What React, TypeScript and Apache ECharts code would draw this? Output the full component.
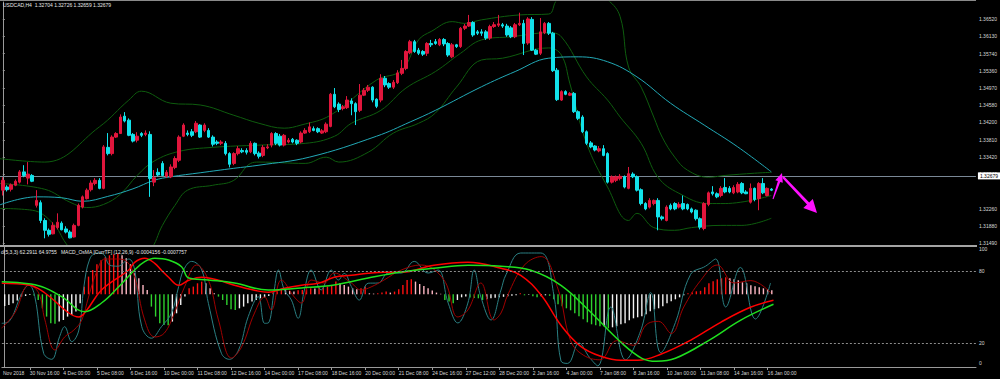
import React, { useEffect, useRef } from "react";
import * as echarts from "echarts";

// ---------- price data (H4 bars, index 0 = 29 Nov 2018 16:00) ----------
const opens = [
  1.3268, 1.3275, 1.3270, 1.3279, 1.3286, 1.3309, 1.3295, 1.3301, 1.3234, 1.3240,
  1.3200, 1.3178, 1.3170, 1.3184, 1.3194, 1.3181, 1.3174, 1.3163, 1.3189, 1.3230,
  1.3249, 1.3269, 1.3283, 1.3290, 1.3272, 1.3364, 1.3350, 1.3387, 1.3395, 1.3434,
  1.3425, 1.3393, 1.3380, 1.3395, 1.3393, 1.3393, 1.3286, 1.3308, 1.3328, 1.3299,
  1.3298, 1.3319, 1.3335, 1.3389, 1.3396, 1.3399, 1.3399, 1.3414, 1.3402, 1.3402,
  1.3387, 1.3376, 1.3373, 1.3373, 1.3350, 1.3328, 1.3350, 1.3357, 1.3357, 1.3354,
  1.3373, 1.3351, 1.3346, 1.3363, 1.3369, 1.3395, 1.3389, 1.3369, 1.3376, 1.3382,
  1.3380, 1.3376, 1.3396, 1.3399, 1.3406, 1.3406, 1.3396, 1.3399, 1.3411, 1.3483,
  1.3461, 1.3451, 1.3453, 1.3468, 1.3462, 1.3447, 1.3481, 1.3492, 1.3499, 1.3472,
  1.3470, 1.3519, 1.3507, 1.3499, 1.3509, 1.3530, 1.3541, 1.3576, 1.3601, 1.3582,
  1.3579, 1.3575, 1.3597, 1.3601, 1.3594, 1.3606, 1.3597, 1.3567, 1.3594, 1.3590,
  1.3631, 1.3636, 1.3644, 1.3623, 1.3623, 1.3623, 1.3609, 1.3635, 1.3638, 1.3639,
  1.3636, 1.3632, 1.3612, 1.3639, 1.3642, 1.3598, 1.3651, 1.3582, 1.3575, 1.3621,
  1.3642, 1.3620, 1.3537, 1.3470, 1.3489, 1.3481, 1.3485, 1.3444, 1.3432, 1.3399,
  1.3374, 1.3367, 1.3356, 1.3361, 1.3350, 1.3286, 1.3290, 1.3294, 1.3298, 1.3272,
  1.3304, 1.3298, 1.3269, 1.3238, 1.3230, 1.3238, 1.3245, 1.3208, 1.3200, 1.3234,
  1.3238, 1.3230, 1.3238, 1.3236, 1.3226, 1.3223, 1.3204, 1.3182, 1.3236, 1.3264,
  1.3260, 1.3256, 1.3274, 1.3272, 1.3262, 1.3264, 1.3283, 1.3264, 1.3241, 1.3272,
  1.3249, 1.3283, 1.3256, 1.32704,
];
const highs = [
  1.3297, 1.3279, 1.3283, 1.3292, 1.3313, 1.3324, 1.3331, 1.3304, 1.3268, 1.3245,
  1.3205, 1.3182, 1.3196, 1.3216, 1.3198, 1.3187, 1.3178, 1.3193, 1.3238, 1.3256,
  1.3272, 1.3290, 1.3295, 1.3295, 1.3369, 1.3396, 1.3391, 1.3398, 1.3438, 1.3443,
  1.3429, 1.3396, 1.3398, 1.3398, 1.3402, 1.3400, 1.3313, 1.3317, 1.3333, 1.3313,
  1.3326, 1.3344, 1.3391, 1.3418, 1.3402, 1.3405, 1.3423, 1.3416, 1.3418, 1.3407,
  1.3391, 1.3380, 1.3380, 1.3378, 1.3353, 1.3353, 1.3367, 1.3362, 1.3362, 1.3378,
  1.3375, 1.3355, 1.3369, 1.3371, 1.3398, 1.3398, 1.3394, 1.3394, 1.3385, 1.3385,
  1.3382, 1.3400, 1.3407, 1.3420, 1.3411, 1.3409, 1.3405, 1.3420, 1.3486, 1.3497,
  1.3465, 1.3459, 1.3479, 1.3474, 1.3465, 1.3506, 1.3497, 1.3504, 1.3501, 1.3474,
  1.3528, 1.3524, 1.3510, 1.3515, 1.3537, 1.3560, 1.3582, 1.3605, 1.3605, 1.3587,
  1.3582, 1.3600, 1.3605, 1.3607, 1.3609, 1.3609, 1.3600, 1.3598, 1.3596, 1.3634,
  1.3641, 1.3661, 1.3647, 1.3627, 1.3629, 1.3627, 1.3639, 1.3645, 1.3661, 1.3643,
  1.3641, 1.3636, 1.3643, 1.3666, 1.3650, 1.3656, 1.3656, 1.3585, 1.3654, 1.3645,
  1.3645, 1.3623, 1.3542, 1.3492, 1.3492, 1.3488, 1.3488, 1.3447, 1.3436, 1.3402,
  1.3378, 1.3369, 1.3367, 1.3369, 1.3353, 1.3301, 1.3301, 1.3304, 1.3301, 1.3320,
  1.3308, 1.3301, 1.3272, 1.3241, 1.3250, 1.3247, 1.3250, 1.3211, 1.3234, 1.3238,
  1.3241, 1.3241, 1.3256, 1.3238, 1.3229, 1.3225, 1.3207, 1.3241, 1.3265, 1.3277,
  1.3263, 1.3277, 1.3295, 1.3277, 1.3279, 1.3286, 1.3286, 1.3268, 1.3283, 1.3274,
  1.3286, 1.3295, 1.3274, 1.32726,
];
const lows = [
  1.3256, 1.3265, 1.3265, 1.3277, 1.3283, 1.3297, 1.3281, 1.3286, 1.3229, 1.3194,
  1.3160, 1.3164, 1.3169, 1.3180, 1.3178, 1.3171, 1.3160, 1.3162, 1.3187, 1.3227,
  1.3247, 1.3265, 1.3279, 1.3270, 1.3270, 1.3346, 1.3346, 1.3385, 1.3394, 1.3420,
  1.3389, 1.3375, 1.3375, 1.3387, 1.3389, 1.3253, 1.3277, 1.3299, 1.3299, 1.3295,
  1.3295, 1.3315, 1.3331, 1.3387, 1.3389, 1.3387, 1.3396, 1.3385, 1.3398, 1.3385,
  1.3366, 1.3369, 1.3369, 1.3346, 1.3319, 1.3324, 1.3346, 1.3351, 1.3348, 1.3351,
  1.3346, 1.3339, 1.3342, 1.3360, 1.3364, 1.3369, 1.3366, 1.3366, 1.3373, 1.3373,
  1.3369, 1.3373, 1.3394, 1.3396, 1.3400, 1.3396, 1.3394, 1.3396, 1.3409, 1.3452,
  1.3443, 1.3447, 1.3450, 1.3436, 1.3414, 1.3443, 1.3479, 1.3488, 1.3465, 1.3452,
  1.3465, 1.3499, 1.3495, 1.3495, 1.3506, 1.3526, 1.3537, 1.3573, 1.3576, 1.3571,
  1.3569, 1.3569, 1.3589, 1.3594, 1.3591, 1.3591, 1.3567, 1.3564, 1.3587, 1.3587,
  1.3627, 1.3634, 1.3612, 1.3616, 1.3614, 1.3605, 1.3605, 1.3632, 1.3634, 1.3632,
  1.3612, 1.3609, 1.3609, 1.3636, 1.3571, 1.3594, 1.3580, 1.3571, 1.3571, 1.3618,
  1.3616, 1.3533, 1.3468, 1.3468, 1.3481, 1.3479, 1.3441, 1.3425, 1.3396, 1.3369,
  1.3362, 1.3355, 1.3353, 1.3344, 1.3283, 1.3283, 1.3286, 1.3290, 1.3272, 1.3270,
  1.3295, 1.3265, 1.3234, 1.3223, 1.3227, 1.3234, 1.3178, 1.3200, 1.3198, 1.3223,
  1.3223, 1.3227, 1.3223, 1.3223, 1.3216, 1.3200, 1.3180, 1.3178, 1.3232, 1.3256,
  1.3250, 1.3252, 1.3261, 1.3261, 1.3259, 1.3261, 1.3259, 1.3259, 1.3238, 1.3243,
  1.3223, 1.3259, 1.3254, 1.32659,
];
const closes = [
  1.3290, 1.3269, 1.3280, 1.3288, 1.3309, 1.3301, 1.3304, 1.3288, 1.3245, 1.3200,
  1.3178, 1.3169, 1.3189, 1.3196, 1.3179, 1.3174, 1.3161, 1.3189, 1.3234, 1.3253,
  1.3268, 1.3284, 1.3290, 1.3272, 1.3365, 1.3350, 1.3387, 1.3395, 1.3432, 1.3423,
  1.3391, 1.3378, 1.3389, 1.3391, 1.3396, 1.3294, 1.3296, 1.3302, 1.3301, 1.3308,
  1.3320, 1.3339, 1.3387, 1.3414, 1.3393, 1.3391, 1.3418, 1.3387, 1.3414, 1.3387,
  1.3371, 1.3373, 1.3376, 1.3350, 1.3326, 1.3350, 1.3361, 1.3354, 1.3353, 1.3373,
  1.3350, 1.3344, 1.3364, 1.3365, 1.3395, 1.3373, 1.3369, 1.3391, 1.3380, 1.3376,
  1.3373, 1.3396, 1.3402, 1.3410, 1.3402, 1.3399, 1.3401, 1.3416, 1.3483, 1.3455,
  1.3449, 1.3455, 1.3470, 1.3462, 1.3444, 1.3481, 1.3492, 1.3499, 1.3470, 1.3456,
  1.3519, 1.3504, 1.3499, 1.3510, 1.3531, 1.3541, 1.3579, 1.3601, 1.3579, 1.3575,
  1.3573, 1.3597, 1.3594, 1.3597, 1.3606, 1.3596, 1.3571, 1.3594, 1.3590, 1.3631,
  1.3636, 1.3644, 1.3616, 1.3620, 1.3620, 1.3609, 1.3635, 1.3639, 1.3641, 1.3636,
  1.3616, 1.3612, 1.3639, 1.3642, 1.3597, 1.3652, 1.3582, 1.3573, 1.3623, 1.3642,
  1.3620, 1.3536, 1.3471, 1.3489, 1.3483, 1.3485, 1.3444, 1.3429, 1.3399, 1.3373,
  1.3365, 1.3358, 1.3361, 1.3346, 1.3286, 1.3298, 1.3298, 1.3299, 1.3275, 1.3305,
  1.3298, 1.3268, 1.3238, 1.3226, 1.3245, 1.3245, 1.3208, 1.3204, 1.3230, 1.3226,
  1.3226, 1.3236, 1.3226, 1.3226, 1.3219, 1.3204, 1.3185, 1.3238, 1.3262, 1.3260,
  1.3253, 1.3272, 1.3264, 1.3264, 1.3274, 1.3281, 1.3262, 1.3260, 1.3272, 1.3247,
  1.3283, 1.3262, 1.3272, 1.32679,
];

// ---------- main-window indicators [barIndex, price] ----------
const maLine = [
  [-1, 1.3234], [8, 1.3253], [14, 1.3251], [19, 1.3243], [25, 1.3254], [31, 1.3271],
  [36, 1.3290], [40, 1.3298], [47, 1.3307], [55, 1.3317], [61, 1.3324], [73, 1.3342],
  [89, 1.3389], [97, 1.3421], [103, 1.3447], [114, 1.3500], [122, 1.3534], [130, 1.3564],
  [137, 1.3567], [144, 1.3556], [151, 1.3522], [159, 1.3463], [167, 1.3414], [175, 1.3365],
  [183, 1.3309],
];
const bbUpper = [
  [-1, 1.3339], [10, 1.3331], [23, 1.3410], [30, 1.3470], [33, 1.3490], [40, 1.3463],
  [47, 1.3459], [55, 1.3436], [61, 1.3418], [67, 1.3407], [71, 1.3414], [78, 1.3436],
  [89, 1.3515], [95, 1.3537], [99, 1.3605], [102, 1.3624], [107, 1.3646], [110, 1.3642],
  [114, 1.3650], [123, 1.3661], [130, 1.3663], [132, 1.3695], [138, 1.3728], [144, 1.3695],
  [147, 1.3657], [149, 1.3544], [152, 1.3499], [155, 1.3432], [157, 1.3387], [160, 1.3342],
  [163, 1.3313], [168, 1.3297], [172, 1.3301], [179, 1.3306], [183, 1.3308],
];
const bbMiddle = [
  [-1, 1.3283], [10, 1.3270], [16, 1.3241], [20, 1.3229], [24, 1.3236], [28, 1.3259],
  [32, 1.3301], [36, 1.3333], [42, 1.3355], [50, 1.3364], [61, 1.3369], [72, 1.3373],
  [79, 1.3389], [83, 1.3418], [90, 1.3447], [96, 1.3497], [103, 1.3534], [109, 1.3575],
  [114, 1.3605], [121, 1.3612], [130, 1.3621], [133, 1.3612], [139, 1.3522], [144, 1.3470],
  [147, 1.3432], [152, 1.3373], [156, 1.3297], [161, 1.3261], [168, 1.3238], [172, 1.3238],
  [183, 1.3256],
];
const bbLower = [
  [-1, 1.3227], [7, 1.3223], [12, 1.3193], [15, 1.3149], [18, 1.3115], [23, 1.3063],
  [30, 1.3106], [35, 1.3133], [38, 1.3189], [41, 1.3234], [44, 1.3268], [50, 1.3279],
  [55, 1.3290], [59, 1.3328], [61, 1.3331], [72, 1.3328], [77, 1.3342], [80, 1.3331],
  [87, 1.3353], [93, 1.3396], [99, 1.3418], [103, 1.3441], [108, 1.3499], [114, 1.3560],
  [119, 1.3564], [130, 1.3587], [133, 1.3571], [135, 1.3508], [139, 1.3373], [144, 1.3275],
  [149, 1.3200], [151, 1.3216], [155, 1.3184], [160, 1.3178], [164, 1.3184], [171, 1.3189],
  [176, 1.3189], [183, 1.3205],
];

// ---------- sub-window: Stochastic (0..100) ----------
const stochMain = [
  [-0.7, 36.4], [1, 37.8], [4.1, 61.4], [5.8, 68.3], [7.2, 58.6], [9.3, 11.4], [11.2, 6.4],
  [13.1, 25.3], [14.3, 33.6], [16, 21.1], [17.7, 30.8], [18.9, 66.9], [20.3, 90], [22, 95],
  [23.6, 94], [25, 85], [27, 84], [29.6, 90], [31, 81], [32.7, 33.6], [35, 24], [37.4, 33.6],
  [39.8, 45], [41.5, 67], [42.7, 81], [44.6, 88], [47, 81], [48.6, 53], [51.7, 11.4],
  [53.6, 6.4], [55.8, 14.2], [58.1, 42], [60.5, 58.6], [62, 36.4], [62.9, 36.7], [64.3, 64.2],
  [65.3, 80.8], [66.7, 64.2], [68.4, 55.8], [70, 40.6], [71.5, 64.2], [73.1, 80.8], [75.5, 64.2],
  [77.9, 80.8], [79.6, 72.5], [81, 78], [82.7, 67], [84.6, 55.8], [86.7, 69.8], [89.1, 70],
  [91.5, 78.3], [94.6, 78.3], [97.7, 88], [101, 78.3], [103.4, 80.8], [105.8, 53.3],
  [108.1, 36.7], [110.5, 53.3], [112, 80.8], [113.6, 58.3], [116, 39.2], [118.4, 64.2],
  [119.6, 77], [123.1, 95], [127.9, 95], [131, 60], [132.7, 5], [134.3, 3], [137, 20],
  [139.5, 8], [141.5, 1], [144.6, 50], [148.1, 6], [151.7, 30], [154.1, 62], [156.5, 12],
  [160, 37], [163.6, 77], [167.2, 84], [169.6, 90], [172, 50], [175.5, 83], [179.1, 40],
  [182.7, 70],
];
const stochSignal = [
  [-0.7, 32.5], [2.4, 45], [5.8, 68.3], [8.1, 61.7], [9.6, 39.2], [12, 14.2], [14.3, 25],
  [16.5, 30.8], [18.4, 39.2], [20, 58.3], [22, 80], [23.9, 90], [26.7, 90], [29.1, 88],
  [31, 75], [33.4, 39.2], [35.8, 25], [38.1, 28.3], [40.5, 45], [42.9, 66.7], [45.8, 85],
  [48.6, 72.5], [51, 39.2], [54.1, 7.5], [56.5, 16.7], [59.6, 45], [62, 58.3], [63.6, 47.5],
  [66, 72.5], [69.1, 58.3], [70.8, 53.3], [73.1, 72.5], [76.2, 70], [78.6, 78.3], [82.7, 70],
  [85, 64.2], [87.4, 66.7], [90.5, 72.5], [94.6, 80.8], [99.3, 85], [104.8, 72.5],
  [108.1, 41.7], [110.5, 47.5], [113.6, 70], [116.7, 39.2], [118.4, 45], [120, 60], [124, 85],
  [128, 92], [132, 65], [135, 22], [138, 10], [142, 6], [146, 22], [150, 18], [153, 35],
  [156, 38], [159, 28], [162, 50], [166, 72], [170, 85], [174, 70], [178, 72], [182.7, 62],
];
const oscTickPos = [3.3, 20, 80, 98.3];
const oscTickText = ["0", "20", "80", "100"];
const oscLevels = [20, 80];

// ---------- sub-window: MACD_OsMA (arbitrary units, 0 = histogram base) ----------
const osma = [
  -11.7, -10.7, -9, -6.3, -2.3, -1.7, -0.7, -1.3, -5.7, -14,
  -22.3, -29, -29.5, -27.3, -25.7, -22.3, -20.7, -17.3, -9, 7.7,
  17.7, 24.3, 30, 34, 37, 39, 40, 40.5, 39, 36,
  30, 21, 16, 9.3, 4.3, -12.3, -22.3, -29, -30.7, -31,
  -27.3, -19, -10.7, -2.3, 6, 7.7, 11, 12.7, 11, 6,
  1, -2.3, -5.7, -10.7, -15, -15.7, -14, -12.3, -9, -7.3,
  -5.7, -4, -3, -1.7, 1.7, 3, 4.3, 4, 3.3, 2.7,
  4, 4.3, 5, 6, 5.7, 6.7, 7, 7.7, 9.3, 12.7,
  11, 9.3, 7.7, 6, 5, 6, 7.7, 1, 0.7, 1,
  1.7, 2.7, 1.7, 2.7, 5, 9.3, 14.3, 15, 12.7, 10.3,
  8.3, 6, 3.7, 1.7, 0.5, -5.7, -7.3, -9, -5.7, -3,
  -2.3, -3.3, -3.7, -4, -5.7, -5, -4, -3.5, -3, -2.5,
  -2, -1.5, -1, 1, -1, -0.5, -2, -3, -2, -1,
  -1.5, -5, -10, -12, -14, -16, -19, -22, -25, -28,
  -30, -31, -32, -32, -34, -33, -32, -30, -29, -26,
  -24, -23, -22, -20, -17, -15, -14, -12, -9, -7,
  -5, -3, -1, 1, 2, 3, 3.5, 7, 11, 13,
  15, 16, 17, 16, 15, 14, 12, 11, 9, 8,
  7, 6, 5, 4,
];
const macdLine = [
  [-0.7, 11], [5.8, 9.3], [9.6, 1.3], [15.3, -18.7], [17.7, -22.7], [19.6, -15.7], [23.1, 4.3],
  [29.6, 24.3], [31, 32], [33.4, 36], [35.8, 31], [37.4, 24], [39.1, 17], [41.5, 9], [43.9, 14],
  [47, 17], [51, 14], [54.8, 9], [59.6, 4], [62.9, 2], [66.7, 6], [70.8, 9], [74.8, 11],
  [78.6, 17], [82.7, 19], [86.7, 21], [90.5, 22], [94.6, 22], [102.4, 29], [110.5, 32],
  [118.4, 26], [123.1, 19], [128, -1], [132.7, -31], [137.4, -52], [142.2, -62], [147, -66],
  [151, -66], [156.5, -60], [163.6, -46], [170.8, -28], [177.9, -13], [183.4, -6],
];
const signalLine = [
  [-0.7, 12.6], [4.1, 11.3], [8.9, 7.6], [13.6, -2.4], [19.1, -17.4], [23.1, -8.7], [27.2, 7.6],
  [31, 24.3], [33.4, 32.6], [35.8, 36], [39.1, 34.3], [42.2, 27.6], [43.9, 16.3], [48.6, 14.3],
  [54.8, 11.3], [62.9, 4.3], [70.8, 6.3], [78.6, 9.3], [86.7, 16.3], [94.6, 22.3], [102.4, 26],
  [110.5, 29], [118.4, 28], [125.5, 24], [132.7, 9], [139.8, -18], [147, -48], [152, -64],
  [155.5, -67], [160, -64], [168.4, -45], [175.5, -26], [183.4, -10],
];

// ---------- axes ----------
const priceTicks = [
  1.3149, 1.3188, 1.3226, 1.3304, 1.3342, 1.3381, 1.342, 1.3458, 1.3497, 1.3536, 1.3574,
  1.3613, 1.3652,
];
const lastPrice = 1.32679;
const xTickIdx = [
  -0.4, 6, 14, 22, 30, 38, 46, 54, 62, 70, 78, 86, 94, 102, 110, 118, 126, 134, 142, 150,
  158, 166, 174, 182,
];
const xTickText = [
  "Nov 2018", "30 Nov 16:00", "4 Dec 00:00", "5 Dec 08:00", "6 Dec 16:00", "10 Dec 00:00",
  "11 Dec 08:00", "12 Dec 16:00", "14 Dec 00:00", "17 Dec 08:00", "18 Dec 16:00",
  "20 Dec 00:00", "21 Dec 08:00", "24 Dec 16:00", "27 Dec 12:00", "28 Dec 20:00",
  "2 Jan 16:00", "4 Jan 00:00", "7 Jan 08:00", "8 Jan 16:00", "10 Jan 00:00",
  "11 Jan 08:00", "14 Jan 16:00", "16 Jan 00:00",
];
const headerMain = "USDCAD,H4  1.32704 1.32726 1.32659 1.32679";
const headerSub =
  "d(5,3,3) 62.2911 64.9755   MACD_OsMA [CurrTF] (12,26,9) -0.0004156 -0.0007757";

const XMIN = -0.667;
const XMAX = 231.71;
const FONT = "Liberation Sans";
const BULL = "#e0163c";
const BEAR = "#12e2ea";
const AXIS = "#9a9a9a";
const TXT = "#d8d8d8";

function osmaColor(i: number) {
  const h = osma[i];
  const p = i > 0 ? osma[i - 1] : h;
  if (h >= 0) return h >= p ? "#ff1010" : "#ffb8c4";
  return h < p ? "#2ed12e" : "#f2f2f2";
}

function buildOption(): any {
  const candles = opens.map((o, i) => [i, o, closes[i], lows[i], highs[i]]);
  const line = (data: number[][], color: string, xi: number, yi: number, width = 1) => ({
    type: "line",
    xAxisIndex: xi,
    yAxisIndex: yi,
    data,
    smooth: 0.4,
    showSymbol: false,
    symbol: "none",
    silent: true,
    lineStyle: { color, width },
    z: 3,
  });
  return {
    animation: false,
    backgroundColor: "#000000",
    textStyle: { fontFamily: FONT },
    grid: [
      { left: 0, top: 2, width: 976, height: 243 },
      { left: 0, top: 247, width: 976, height: 120 },
    ],
    xAxis: [
      {
        type: "value", gridIndex: 0, min: XMIN, max: XMAX,
        axisLine: { show: false }, axisTick: { show: false }, axisLabel: { show: false },
        splitLine: { show: false },
      },
      {
        type: "value", gridIndex: 1, min: XMIN, max: XMAX,
        axisLine: { show: true, lineStyle: { color: AXIS, width: 1 } },
        axisTick: { show: true, length: 3, lineStyle: { color: AXIS }, customValues: xTickIdx.slice(1) },
        axisLabel: {
          show: true, customValues: xTickIdx, color: TXT, fontSize: 5, fontFamily: FONT,
          align: "left", margin: 3,
          formatter: (v: number) => {
            const k = xTickIdx.findIndex((t) => Math.abs(t - v) < 1e-6);
            return k >= 0 ? xTickText[k] : "";
          },
        },
        splitLine: { show: false },
      },
    ],
    yAxis: [
      {
        type: "value", gridIndex: 0, position: "right", min: 1.3145, max: 1.369, scale: true,
        axisLine: { show: true, lineStyle: { color: AXIS, width: 1 } },
        axisTick: { show: true, length: 2, lineStyle: { color: AXIS }, customValues: priceTicks },
        axisLabel: {
          show: true, customValues: priceTicks, color: TXT, fontSize: 5, fontFamily: FONT, margin: 3,
          formatter: (v: number) => v.toFixed(5),
        },
        splitLine: { show: false },
      },
      {
        type: "value", gridIndex: 1, position: "right", min: 0, max: 100,
        axisLine: { show: true, lineStyle: { color: AXIS, width: 1 } },
        axisTick: { show: false },
        axisLabel: {
          show: true, customValues: oscTickPos, color: TXT, fontSize: 5, fontFamily: FONT, margin: 3,
          formatter: (v: number) => {
            const k = oscTickPos.findIndex((t) => Math.abs(t - v) < 1e-6);
            return k >= 0 ? oscTickText[k] : "";
          },
        },
        splitLine: { show: false },
      },
      {
        type: "value", gridIndex: 1, min: -72.7, max: 47.3, show: false,
        splitLine: { show: false },
      },
    ],
    series: [
      {
        type: "candlestick",
        xAxisIndex: 0,
        yAxisIndex: 0,
        data: candles,
        encode: { x: 0, y: [1, 2, 3, 4] },
        barWidth: 3,
        silent: true,
        itemStyle: { color: BULL, color0: BEAR, borderColor: BULL, borderColor0: BEAR, borderWidth: 1 },
        z: 4,
        markLine: {
          silent: true,
          symbol: "none",
          data: [{ yAxis: lastPrice }],
          lineStyle: { color: "#7a8896", width: 1, type: "solid" },
          label: {
            show: true, position: "end", distance: 2, formatter: lastPrice.toFixed(5),
            backgroundColor: "#ffffff", color: "#000000", fontSize: 5, fontFamily: FONT,
            padding: [1, 2, 1, 2],
          },
          z: 2,
        },
      },
      line(bbUpper, "#0e5c0e", 0, 0),
      line(bbMiddle, "#0e5c0e", 0, 0),
      line(bbLower, "#0e5c0e", 0, 0),
      line(maLine, "#22a9b6", 0, 0),
      {
        type: "bar",
        xAxisIndex: 1,
        yAxisIndex: 2,
        barWidth: 1.4,
        silent: true,
        data: osma.map((h, i) => ({ value: [i, h], itemStyle: { color: osmaColor(i) } })),
        z: 2,
      },
      {
        ...line(stochMain, "#2a7f82", 1, 1),
        markLine: {
          silent: true,
          symbol: "none",
          label: { show: false },
          lineStyle: { color: "#8c8c8c", width: 1, type: [2, 2] },
          data: oscLevels.map((v) => ({ yAxis: v })),
        },
      },
      line(stochSignal, "#a00000", 1, 1),
      line(macdLine, "#ff0000", 1, 2, 1.5),
      line(signalLine, "#1fe01f", 1, 2, 1.5),
    ],
    graphic: [
      { type: "rect", shape: { x: 0, y: 0, width: 976, height: 1 }, style: { fill: "#8a8a8a" }, z: 50 },
      { type: "rect", shape: { x: 0, y: 245, width: 977, height: 2 }, style: { fill: "#a4a4a4" }, z: 50 },
      {
        type: "text", x: 3, y: 5, z: 60,
        style: { text: headerMain, fill: "#e8e8e8", fontSize: 5, fontFamily: FONT, verticalAlign: "middle" },
      },
      {
        type: "text", x: 1, y: 251.5, z: 60,
        style: { text: headerSub, fill: "#e8e8e8", fontSize: 5, fontFamily: FONT, verticalAlign: "middle" },
      },
      {
        type: "polygon", z: 60,
        shape: { points: [[772.5, 198.8], [777.9, 181.1], [775.3, 180.2], [782, 173], [782.8, 182.8], [780.2, 181.9], [773.5, 199.2]] },
        style: { fill: "#ff10ff" },
      },
      {
        type: "polygon", z: 60,
        shape: { points: [[783.9, 176.2], [809.2, 202.5], [812.8, 199.1], [817, 213], [803.3, 208.0], [807.0, 204.6], [782.1, 177.8]] },
        style: { fill: "#ff10ff" },
      },
    ],
  };
}

export default function App() {
  const ref = useRef<HTMLDivElement>(null);
  useEffect(() => {
    const chart = echarts.init(ref.current as HTMLDivElement, null, { renderer: "svg" });
    chart.setOption(buildOption());
    return () => chart.dispose();
  }, []);
  return (
    <div
      ref={ref}
      style={{ position: "fixed", left: 0, top: 0, width: 1000, height: 379, background: "#000" }}
    />
  );
}
